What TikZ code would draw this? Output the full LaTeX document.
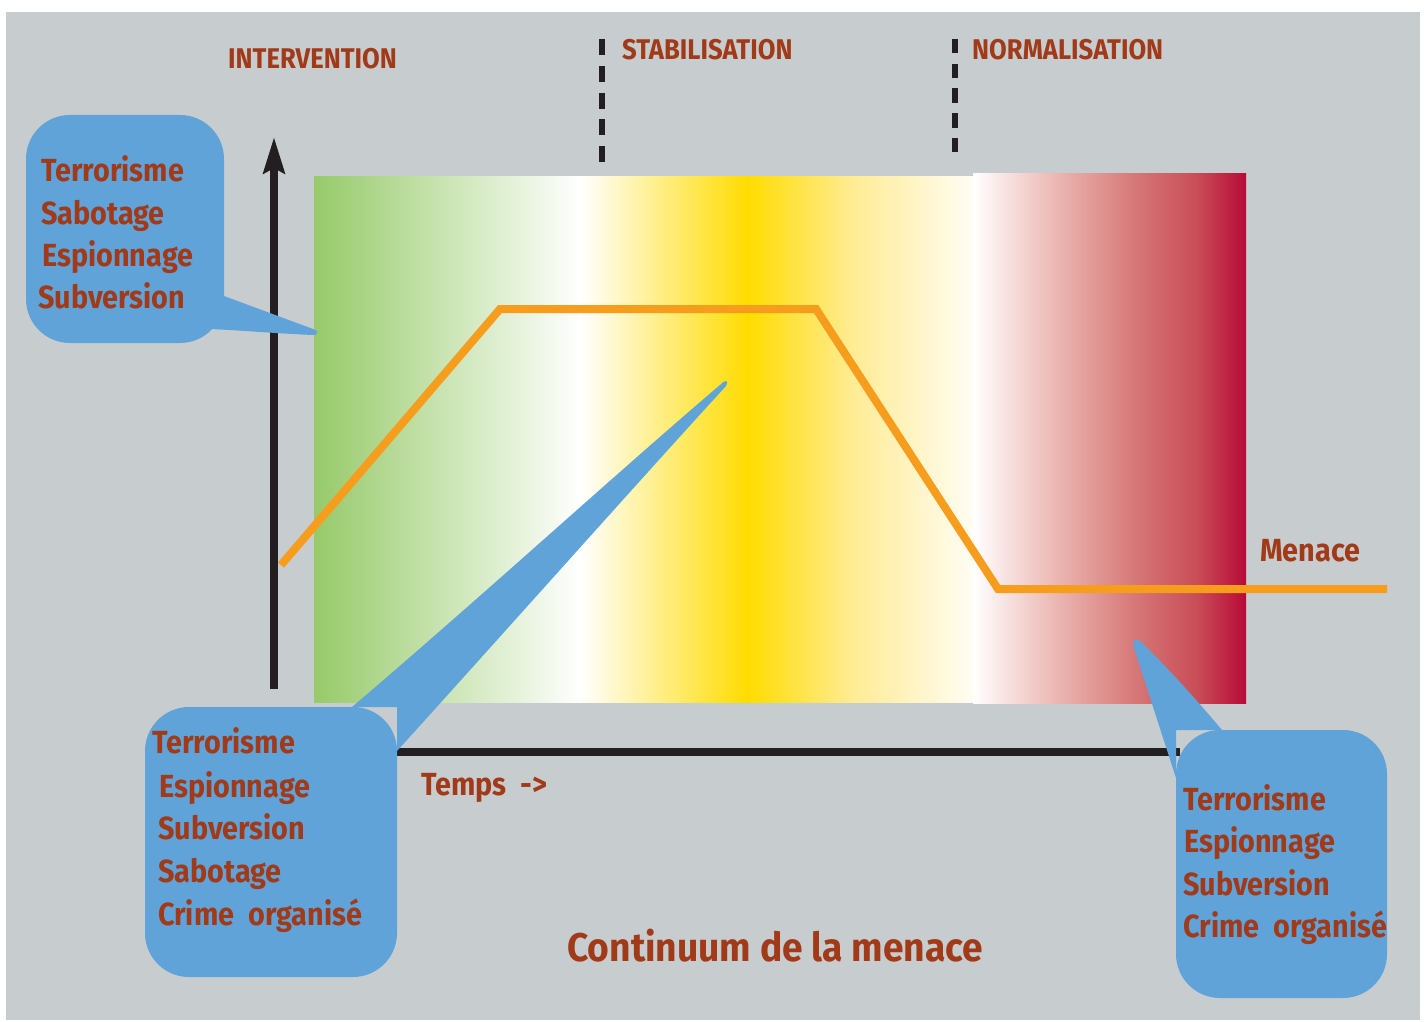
\documentclass[tikz,border=0pt]{standalone}
\usepackage{fontspec}
\setmainfont{Fira Sans}
\newfontfamily\labfont[FakeStretch=0.9]{Fira Sans}
\newfontfamily\titlefont[FakeStretch=0.93]{Fira Sans}
\usetikzlibrary{arrows.meta}

\definecolor{bggrey}{HTML}{C7CCCF}
\definecolor{txtred}{HTML}{A13A18}
\definecolor{callblue}{HTML}{60A3D8}
\definecolor{menaceorange}{HTML}{F69D1E}
\definecolor{axisblack}{HTML}{231F20}
\definecolor{gzero}{HTML}{97CA6A}
\definecolor{yzero}{HTML}{FFDC00}
\definecolor{yone}{HTML}{FFEC96}
\definecolor{ytwo}{HTML}{FFFDF4}
\definecolor{rone}{HTML}{EBB8B4}
\definecolor{rtwo}{HTML}{D67676}
\definecolor{rthree}{HTML}{C84D57}
\definecolor{rfour}{HTML}{B80A38}

% green -> white -> yellow -> white ramp of the first three phases
\pgfdeclarehorizontalshading{phaseramp}{100bp}{%
  color(0bp)=(gzero); color(25bp)=(gzero); color(45.2bp)=(white);
  color(57.9bp)=(yzero); color(66bp)=(yone); color(75bp)=(ytwo); color(100bp)=(ytwo)}
% white -> crimson ramp of the normalisation phase
\pgfdeclarehorizontalshading{redramp}{100bp}{%
  color(0bp)=(white); color(25bp)=(white); color(40bp)=(rone);
  color(55bp)=(rtwo); color(66bp)=(rthree); color(75bp)=(rfour); color(100bp)=(rfour)}

\tikzset{
  callout/.style={fill=callblue, draw=none},
  lab/.style={text=txtred, inner sep=0pt, anchor=base west,
    font=\labfont\bfseries\fontsize{32}{38}\selectfont},
  phase/.style={text=txtred, inner sep=0pt, anchor=base west,
    font=\labfont\bfseries\fontsize{28.5}{34}\selectfont},
  axisline/.style={draw=axisblack, line width=8pt},
  phasedash/.style={draw=axisblack, line width=5.5pt},
  menaceline/.style={draw=menaceorange, line width=8pt, miter limit=20},
}

\begin{document}
\begin{tikzpicture}[x=1pt, y=-1pt]
  \useasboundingbox (0,0) rectangle (1424,1022);
  \fill[white] (0,0) rectangle (1424,1022);
  \fill[bggrey] (6,12) rectangle (1420,1020);

  % time axis (its ends disappear under the callouts)
  \coordinate (xaxis-start) at (274,752);
  \coordinate (xaxis-end) at (1180,752);
  \draw[axisline] (xaxis-start) -- (xaxis-end);

  % threat level bands
  \shade[shading=phaseramp] (314,176) rectangle (973,702.5);
  \shade[shading=redramp] (973,173.5) rectangle (1246,703.5);

  % threat axis
  \coordinate (yaxis-bot) at (274,689);
  \coordinate (yaxis-top) at (274,137);
  \draw[axisline, -{Stealth[length=36pt, width=21pt, inset=5pt]}] (yaxis-bot) -- (yaxis-top);

  % threat curve
  \coordinate (m0) at (281,565);
  \coordinate (m1) at (500,309);
  \coordinate (m2) at (816,309);
  \coordinate (m3) at (998,589);
  \coordinate (m4) at (1387,589);
  \draw[menaceline] (m0) -- (m1) -- (m2) -- (m3) -- (m4);

  % phase separators
  \coordinate (sepA-top) at (602,39);
  \coordinate (sepA-bot) at (602,162);
  \coordinate (sepB-top) at (955,39);
  \coordinate (sepB-bot) at (955,153);
  \draw[phasedash, dash pattern=on 16pt off 10.8pt] (sepA-top) -- (sepA-bot);
  \draw[phasedash, dash pattern=on 14.5pt off 10.2pt] (sepB-top) -- (sepB-bot);

  % callout: intervention threats
  \path[callout, rounded corners=44pt] (26,115) rectangle (224,343);
  \path[callout] (200,300) -- (224,296) -- (313,329)
    .. controls (319,331) and (319,335) .. (312,335)
    .. controls (270,333) and (235,330) .. (210,329) -- (190,320) -- cycle;

  % callout: stabilisation threats
  \path[callout, rounded corners=44pt] (145,707) rectangle (397,977);
  \path[callout] (352,707)
    .. controls (480,598) and (620,470) .. (720,385)
    .. controls (726,379) and (729,380) .. (726,386)
    .. controls (640,480) and (520,615) .. (397,751) -- (397,707) -- cycle;

  % callout: normalisation threats
  \path[callout, rounded corners=44pt] (1176,730) rectangle (1387,998);
  \path[callout] (1176,778) -- (1134,648)
    .. controls (1131,639) and (1136,637) .. (1142,643)
    .. controls (1165,665) and (1195,698) .. (1222,730) -- (1176,730) -- cycle;

  % phase titles
  \node[phase] (tInter) at (228,69) {INTERVENTION};
  \node[phase] (tStab) at (622,60) {STABILISATION};
  \node[phase] (tNorm) at (972,60) {NORMALISATION};

  % intervention list
  \node[lab] (a1) at (41,182) {Terrorisme};
  \node[lab] (a2) at (41,224) {Sabotage};
  \node[lab] (a3) at (42,266) {Espionnage};
  \node[lab] (a4) at (38,308) {Subversion};

  % stabilisation list
  \node[lab] (b1) at (152,753) {Terrorisme};
  \node[lab] (b2) at (159,797) {Espionnage};
  \node[lab] (b3) at (158,839) {Subversion};
  \node[lab] (b4) at (158,882) {Sabotage};
  \node[lab] (b5) at (158,925) {Crime\hspace{0.45em}organisé};

  % normalisation list
  \node[lab] (c1) at (1183,810) {Terrorisme};
  \node[lab] (c2) at (1184,852) {Espionnage};
  \node[lab] (c3) at (1183,895) {Subversion};
  \node[lab] (c4) at (1183,937) {Crime\hspace{0.45em}organisé};

  \node[lab] (menace) at (1260,561) {Menace};
  \node[lab] (temps) at (421,795) {Temps\hspace{0.45em}->};
  \node[text=txtred, inner sep=0pt, anchor=base west,
    font=\titlefont\bfseries\fontsize{40}{48}\selectfont] (title) at (567,961) {Continuum de la menace};
\end{tikzpicture}
\end{document}
